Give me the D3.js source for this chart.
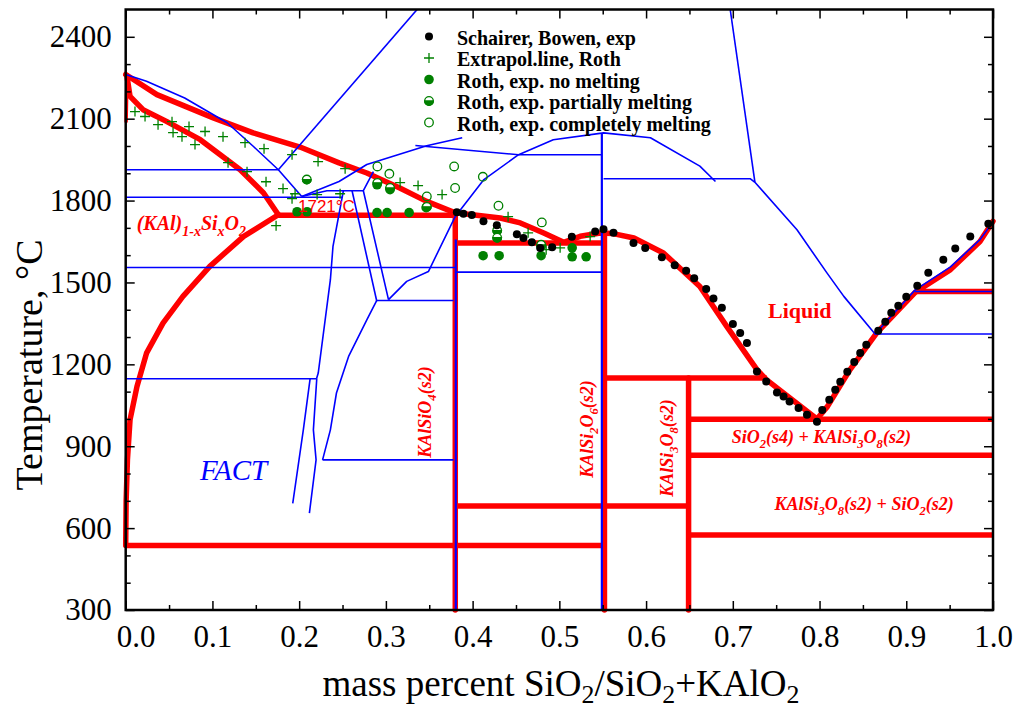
<!DOCTYPE html>
<html>
<head>
<meta charset="utf-8">
<script src="https://cdn.jsdelivr.net/npm/d3@7"></script>
<style>
  body { margin: 0; background: #fff; }
  svg { display: block; }
</style>
</head>
<body>
<svg id="chart" width="1017" height="714"></svg>
<script>
// ---------- axis ticks ----------
const xMajorTicks = [0, 0.1, 0.2, 0.3, 0.4, 0.5, 0.6, 0.7, 0.8, 0.9, 1.0];
const xMinorTicks = [0.05, 0.15, 0.25, 0.35, 0.45, 0.55, 0.65, 0.75, 0.85, 0.95];
const yMajorTicks = [300, 600, 900, 1200, 1500, 1800, 2100, 2400];
const yMinorTicks = [400, 500, 700, 800, 1000, 1100, 1300, 1400, 1600, 1700, 1900, 2000, 2200, 2300];

// ---------- assessed diagram (red): [mass fraction SiO2, T °C] ----------
const liquidusKAlO2 = [[0.000, 2262], [0.036, 2188], [0.101, 2103], [0.147, 2048], [0.201, 1996],
  [0.246, 1938], [0.278, 1901], [0.316, 1846], [0.347, 1797], [0.380, 1755]];
const liquidusMid = [[0.380, 1755], [0.432, 1736], [0.455, 1718], [0.482, 1681], [0.505, 1647],
  [0.524, 1669], [0.547, 1681], [0.562, 1679], [0.586, 1663], [0.620, 1608], [0.662, 1485],
  [0.693, 1339], [0.728, 1180], [0.739, 1143], [0.797, 1000]];
const liquidusSilica = [[0.797, 1000], [0.809, 1045], [0.835, 1180], [0.866, 1315], [0.910, 1463],
  [0.951, 1547], [0.985, 1650], [1.000, 1724]];
const solidusKAlO2Edge = [[0.0015, 2262], [0.0005, 2090]];
const solidusKAlO2 = [[0.0015, 2255], [0.005, 2182], [0.020, 2133], [0.047, 2090], [0.086, 2023],
  [0.132, 1913], [0.159, 1828], [0.176, 1748]];
const solvusKAlO2 = [[0.176, 1748], [0.136, 1669], [0.097, 1559], [0.066, 1449], [0.043, 1351],
  [0.024, 1241], [0.013, 1119], [0.005, 997], [0.002, 850], [0.0005, 700], [0.000, 536]];
// invariant isotherms: [T, from, to]
const redIsotherms = [[1746, 0.176, 0.380], [1645, 0.380, 0.552], [1150, 0.552, 0.739],
  [1467, 0.910, 1.0], [999, 0.649, 1.0], [867, 0.649, 1.0], [681, 0.380, 0.649],
  [575, 0.649, 1.0], [536, 0.000, 0.552]];
// stoichiometric compounds: [composition, upper temperature]
const redCompounds = [[0.380, 1755], [0.552, 1681], [0.649, 1150]];

// ---------- FACT diagram (blue) ----------
const factLiquidusKAlO2 = [[0.000, 2262], [0.024, 2237], [0.068, 2176], [0.117, 2085], [0.147, 1999],
  [0.176, 1913], [0.203, 1815]];
const factBoundary1 = [[0.176, 1913], [0.336, 2500]];
const factBoundary2 = [[0.203, 1815], [0.232, 1836], [0.274, 1836]];
const factBoundary3 = [[0.203, 1815], [0.246, 1870], [0.278, 1932], [0.347, 2001], [0.388, 2030]];
const factBoundary4 = [[0.334, 2002], [0.453, 1968], [0.549, 1968]];
const factLiquidusMid = [[0.303, 1437], [0.324, 1504], [0.349, 1540], [0.380, 1742], [0.413, 1877],
  [0.453, 1968], [0.493, 2023], [0.551, 2048], [0.605, 2030], [0.662, 1926], [0.680, 1870]];
const factBoundary5 = [[0.551, 1880], [0.720, 1880], [0.7255, 1867]];
const factBoundary6 = [[0.697, 2500], [0.7255, 1867]];
const factLiquidusSilica = [[0.7255, 1867], [0.774, 1693], [0.8085, 1535], [0.828, 1449], [0.864, 1311],
  [0.910, 1472], [0.951, 1557], [0.985, 1657], [1.000, 1722]];
const factSolvus1 = [[0.251, 1836], [0.239, 1632], [0.236, 1510], [0.222, 1168], [0.220, 1147]];
const factSolvus2 = [[0.261, 1836], [0.2895, 1431]];
const factSolvus3 = [[0.2856, 1906], [0.274, 1836], [0.303, 1437]];
const factSolvus4 = [[0.2895, 1434], [0.278, 1363], [0.257, 1229], [0.243, 1095], [0.236, 960], [0.227, 850]];
const factSolvus5 = [[0.2126, 1147], [0.2048, 960], [0.1926, 691]];
const factSolvus6 = [[0.2203, 1147], [0.2164, 960], [0.2195, 850], [0.2118, 655]];
const blueIsotherms = [[1913, 0.000, 0.176], [1812, 0.000, 0.250], [1555, 0.000, 0.380],
  [1538, 0.380, 0.549], [1434, 0.2895, 0.378], [1147, 0.000, 0.2203], [850, 0.227, 0.378],
  [1311, 0.864, 1.0], [1467, 0.910, 1.0]];
const blueCompounds = [[0.3806, 1657], [0.549, 2048]];

// ---------- experimental points ----------
const schairerBowen = [[0.3818, 1757], [0.3894, 1752], [0.3991, 1747], [0.4125, 1724], [0.4279, 1710],
  [0.4510, 1677], [0.4586, 1663], [0.4683, 1647], [0.4779, 1626], [0.4917, 1629], [0.5144, 1667],
  [0.5413, 1687], [0.5509, 1695], [0.5624, 1682], [0.5855, 1645], [0.5990, 1626], [0.6182, 1592],
  [0.6330, 1563], [0.6462, 1543], [0.6555, 1515], [0.6693, 1476], [0.6777, 1441], [0.6874, 1407],
  [0.7001, 1348], [0.7085, 1315], [0.7163, 1278], [0.7278, 1174], [0.7385, 1137], [0.7509, 1097],
  [0.7585, 1082], [0.7654, 1064], [0.7758, 1040], [0.7855, 1015], [0.7970, 990], [0.8031, 1033],
  [0.8112, 1070], [0.8181, 1107], [0.8239, 1136], [0.8320, 1173], [0.8400, 1209], [0.8469, 1242],
  [0.8539, 1272], [0.8677, 1323], [0.8758, 1356], [0.8827, 1389], [0.8908, 1415], [0.9000, 1448],
  [0.9127, 1488], [0.9254, 1536], [0.9427, 1583], [0.9565, 1624], [0.9738, 1668], [0.9946, 1715]];
const rothExtrapolated = [[0.0107, 2126], [0.0223, 2108], [0.0373, 2078], [0.0534, 2089], [0.0546, 2049],
  [0.0649, 2034], [0.0730, 2071], [0.0799, 2005], [0.0915, 2053], [0.1122, 2034], [0.1180, 1939],
  [0.1376, 2012], [0.1399, 1906], [0.1595, 1990], [0.1618, 1869], [0.1814, 1844], [0.1918, 1968],
  [0.1918, 1807], [0.1953, 1825], [0.1734, 1708], [0.2207, 1822], [0.2218, 1943], [0.2472, 1825],
  [0.2530, 1917], [0.3164, 1866], [0.3371, 1855], [0.3648, 1822], [0.4409, 1741], [0.4640, 1682],
  [0.4848, 1620], [0.5009, 1627], [0.5355, 1668]];
const rothNoMelting = [[0.1976, 1759], [0.2091, 1759], [0.2898, 1858], [0.3048, 1840], [0.2898, 1756],
  [0.3014, 1756], [0.3268, 1756], [0.3464, 1774], [0.4121, 1598], [0.4306, 1598], [0.4790, 1598],
  [0.5148, 1594], [0.5309, 1594], [0.4790, 1631], [0.5148, 1627]];
const rothPartial = [[0.2088, 1877], [0.2902, 1865], [0.3048, 1846], [0.3472, 1777], [0.4283, 1690],
  [0.4283, 1664], [0.4790, 1638]];
const rothComplete = [[0.2902, 1925], [0.3040, 1898], [0.3787, 1925], [0.3798, 1846], [0.4118, 1887],
  [0.4298, 1781], [0.4798, 1720], [0.3472, 1815]];

const legendLabels = ["Schairer, Bowen, exp", "Extrapol.line, Roth", "Roth, exp. no melting",
  "Roth, exp. partially melting", "Roth, exp. completely melting"];

// ---------- setup ----------
const RED = "#ff0000", BLUE = "#0000ff", GREEN = "#008000";
const SERIF = "'Liberation Serif', 'Times New Roman', serif";
const svg = d3.select("#chart");
const x = d3.scaleLinear().domain([0, 1]).range([125.7, 993]);
const y = d3.scaleLinear().domain([300, 2500]).range([610, 9.5]);
const line = d3.line().x(d => x(d[0])).y(d => y(d[1]));

const plot = svg.append("g");
plot.append("clipPath").attr("id", "clip").append("rect")
  .attr("x", x(0) - 3).attr("y", y(2500)).attr("width", x(1) - x(0) + 6).attr("height", y(300) - y(2500) + 3);
const body = plot.append("g").attr("clip-path", "url(#clip)");

// red assessed phase boundaries
const redLayer = body.append("g").attr("fill", "none").attr("stroke", RED)
  .attr("stroke-width", 5.5).attr("stroke-linejoin", "round").attr("stroke-linecap", "round");
[liquidusKAlO2, liquidusMid, liquidusSilica, solidusKAlO2, solvusKAlO2].forEach(c =>
  redLayer.append("path").attr("d", line(c)));
redLayer.append("path").attr("d", line(solidusKAlO2Edge)).attr("stroke-width", 3.5);
redIsotherms.forEach(([t, a, b]) => redLayer.append("path").attr("d", line([[a, t], [b, t]])).attr("stroke-linecap", "butt"));
redCompounds.forEach(([v, t]) => redLayer.append("path").attr("d", line([[v, t], [v, 300]])));

// blue FACT phase boundaries
const blueLayer = body.append("g").attr("fill", "none").attr("stroke", BLUE)
  .attr("stroke-width", 1.6).attr("stroke-linejoin", "round");
[factLiquidusKAlO2, factBoundary1, factBoundary2, factBoundary3, factBoundary4, factLiquidusMid,
 factBoundary5, factBoundary6, factLiquidusSilica, factSolvus1, factSolvus2, factSolvus3,
 factSolvus4, factSolvus5, factSolvus6].forEach(c => blueLayer.append("path").attr("d", line(c)));
blueIsotherms.forEach(([t, a, b]) => blueLayer.append("path").attr("d", line([[a, t], [b, t]])));
blueCompounds.forEach(([v, t]) => blueLayer.append("path").attr("d", line([[v, t], [v, 300]])).attr("stroke-width", 2.2));

// marker drawing helpers
const R = 4.3;
function marker(g, kind) {
  if (kind === "dot") g.append("circle").attr("r", 4).attr("fill", "#000");
  else if (kind === "plus") g.append("path").attr("d", "M-5,0H5M0,-5V5").attr("stroke", GREEN).attr("stroke-width", 1.3);
  else if (kind === "filled") g.append("circle").attr("r", R + 0.5).attr("fill", GREEN);
  else if (kind === "half") {
    g.append("circle").attr("r", R).attr("fill", "#fff").attr("stroke", GREEN).attr("stroke-width", 1.3);
    g.append("path").attr("d", `M${-R},0A${R},${R} 0 0 0 ${R},0Z`).attr("fill", GREEN).attr("stroke", GREEN).attr("stroke-width", 1.3);
  } else if (kind === "open") g.append("circle").attr("r", R).attr("fill", "none").attr("stroke", GREEN).attr("stroke-width", 1.3);
}
function series(data, kind) {
  body.append("g").selectAll("g").data(data).join("g")
    .attr("transform", d => `translate(${x(d[0])},${y(d[1])})`)
    .each(function () { marker(d3.select(this), kind); });
}
series(rothExtrapolated, "plus");
series(rothNoMelting, "filled");
series(rothPartial, "half");
series(rothComplete, "open");
series(schairerBowen, "dot");

// ---------- axes ----------
function styleAxis(g) {
  g.select(".domain").remove();
  g.selectAll(".tick line").attr("stroke", "#000").attr("stroke-width", 1.5);
  g.selectAll("text").attr("font-family", SERIF).attr("font-size", 31).attr("fill", "#000");
}
const gxb = svg.append("g").attr("transform", `translate(0,${y(300)})`)
  .call(d3.axisBottom(x).tickValues(xMajorTicks).tickSize(-9).tickPadding(15).tickFormat(d3.format(".1f")))
  .call(styleAxis);
gxb.selectAll(".tick text").filter(d => d === 0).attr("x", 10);
svg.append("g").attr("transform", `translate(0,${y(300)})`)
  .call(d3.axisBottom(x).tickValues(xMinorTicks).tickSize(-5).tickFormat("")).call(styleAxis);
svg.append("g").attr("transform", `translate(0,${y(2500)})`)
  .call(d3.axisTop(x).tickValues(xMajorTicks).tickSize(-9).tickFormat("")).call(styleAxis);
svg.append("g").attr("transform", `translate(0,${y(2500)})`)
  .call(d3.axisTop(x).tickValues(xMinorTicks).tickSize(-5).tickFormat("")).call(styleAxis);
svg.append("g").attr("transform", `translate(${x(0)},0)`)
  .call(d3.axisLeft(y).tickValues(yMajorTicks).tickSize(-9).tickPadding(14).tickFormat(d3.format("d")))
  .call(styleAxis);
svg.append("g").attr("transform", `translate(${x(0)},0)`)
  .call(d3.axisLeft(y).tickValues(yMinorTicks).tickSize(-5).tickFormat("")).call(styleAxis);
svg.append("g").attr("transform", `translate(${x(1)},0)`)
  .call(d3.axisRight(y).tickValues(yMajorTicks).tickSize(-9).tickFormat("")).call(styleAxis);
svg.append("g").attr("transform", `translate(${x(1)},0)`)
  .call(d3.axisRight(y).tickValues(yMinorTicks).tickSize(-5).tickFormat("")).call(styleAxis);

svg.append("rect").attr("x", x(0)).attr("y", y(2500)).attr("width", x(1) - x(0)).attr("height", y(300) - y(2500))
  .attr("fill", "none").attr("stroke", "#000").attr("stroke-width", 2.5);

// ---------- text with subscripts ----------
function rich(textSel, parts, fs, subShift) {
  let shift = 0;
  parts.forEach(p => {
    const sub = p.startsWith("_");
    const target = sub ? fs * subShift : 0;
    textSel.append("tspan").attr("dy", target - shift).attr("font-size", sub ? fs * 0.7 : fs).text(sub ? p.slice(1) : p);
    shift = target;
  });
}
function label(px, py, parts, opts) {
  const t = svg.append("text")
    .attr("transform", `translate(${px},${py})${opts.rotate ? " rotate(-90)" : ""}`)
    .attr("font-family", opts.family || SERIF)
    .attr("font-size", opts.size)
    .attr("font-style", opts.italic ? "italic" : "normal")
    .attr("font-weight", opts.bold ? "bold" : "normal")
    .attr("fill", opts.color || "#000")
    .attr("text-anchor", opts.anchor || "start");
  rich(t, parts, opts.size, opts.subShift || 0.28);
  return t;
}

// axis titles
label(42, 365, ["Temperature, °C"], { size: 38, rotate: true, anchor: "middle" });
label(561, 696, ["mass percent SiO", "_2", "/SiO", "_2", "+KAlO", "_2"], { size: 37, anchor: "middle", subShift: 0.2 });

// phase-field labels
label(136.7, 230, ["(KAl)", "_1-x", "Si", "_x", "O", "_2"], { size: 20, italic: true, bold: true, color: RED });
label(298, 211.7, ["1721°C"], { size: 17, color: RED, family: "'Liberation Sans', Arial, sans-serif" });
label(431, 412, ["KAlSiO", "_4", "(s2)"], { size: 18, italic: true, bold: true, color: RED, rotate: true, anchor: "middle" });
label(593, 429, ["KAlSi", "_2", "O", "_6", "(s2)"], { size: 18, italic: true, bold: true, color: RED, rotate: true, anchor: "middle" });
label(673, 448, ["KAlSi", "_3", "O", "_8", "(s2)"], { size: 18, italic: true, bold: true, color: RED, rotate: true, anchor: "middle" });
label(731.7, 443, ["SiO", "_2", "(s4) + KAlSi", "_3", "O", "_8", "(s2)"], { size: 18, italic: true, bold: true, color: RED });
label(774.5, 510, ["KAlSi", "_3", "O", "_8", "(s2) + SiO", "_2", "(s2)"], { size: 18, italic: true, bold: true, color: RED });
label(768, 318, ["Liquid"], { size: 22, bold: true, color: RED });
label(200, 480, ["FACT"], { size: 29, italic: true, color: BLUE });

// ---------- legend ----------
const legendKinds = ["dot", "plus", "filled", "half", "open"];
const legend = svg.append("g");
legendLabels.forEach((txt, i) => {
  const base = 44.5 + i * 21.5;
  const m = legend.append("g").attr("transform", `translate(429,${base - 8})`);
  marker(m, legendKinds[i]);
  legend.append("text").attr("x", 457).attr("y", base)
    .attr("font-family", SERIF).attr("font-size", 20).attr("font-weight", "bold").text(txt);
});
</script>
</body>
</html>
